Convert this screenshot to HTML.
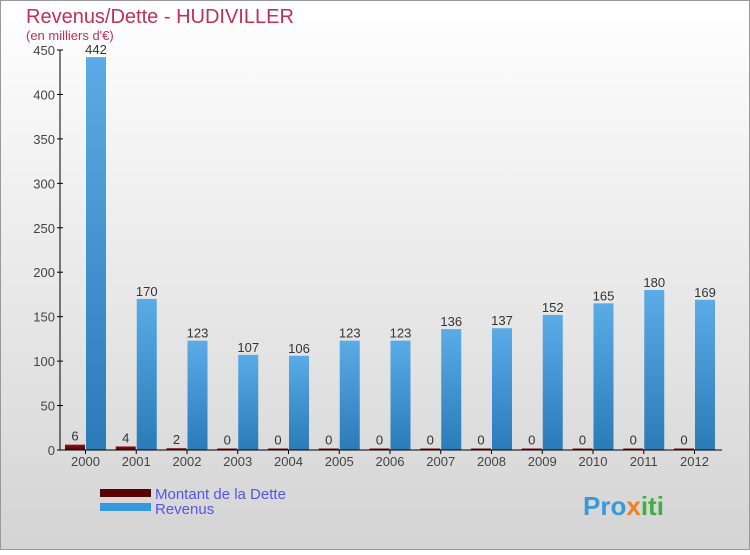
<!DOCTYPE html>
<html><head><meta charset="utf-8"><style>
body{margin:0}
#c{width:750px;height:550px;position:relative;font-family:"Liberation Sans",sans-serif;}
</style></head><body>
<div id="c">
<svg width="750" height="550" xmlns="http://www.w3.org/2000/svg" id="svg">
<defs>
<linearGradient id="bg" x1="0" y1="0" x2="0" y2="1"><stop offset="0" stop-color="#ffffff"/><stop offset="1" stop-color="#d4d4d4"/></linearGradient>
<linearGradient id="blue" x1="0" y1="0" x2="0" y2="1"><stop offset="0" stop-color="#5aabe6"/><stop offset="1" stop-color="#2a7bb8"/></linearGradient>
<linearGradient id="red" x1="0" y1="0" x2="0" y2="1"><stop offset="0" stop-color="#8a1010"/><stop offset="1" stop-color="#5a0000"/></linearGradient>
</defs>
<rect x="0.5" y="0.5" width="749" height="549" fill="url(#bg)" stroke="#999"/>
<text x="26" y="23" font-size="20" fill="#c0305a">Revenus/Dette - HUDIVILLER</text>
<text x="26" y="40" font-size="13" fill="#c0305a">(en milliers d'€)</text>
<g id="plot"></g>
<g>
<rect x="100" y="489" width="51" height="8" fill="#5a0000"/>
<text x="155" y="499" font-size="15" fill="#5555ee">Montant de la Dette</text>
<rect x="100" y="503" width="51" height="8" fill="#3498dc"/>
<text x="155" y="514" font-size="15" fill="#5555ee">Revenus</text>
</g>
<text x="583" y="515" font-size="26" font-weight="bold" fill="#3a9ad8">Pro<tspan fill="#f08020">x</tspan><tspan fill="#40b040">iti</tspan></text>
</svg>
</div>
<script>
const years=["2000","2001","2002","2003","2004","2005","2006","2007","2008","2009","2010","2011","2012"];
const dette=[6,4,2,0,0,0,0,0,0,0,0,0,0];
const revenus=[442,170,123,107,106,123,123,136,137,152,165,180,169];
const yTicks=[0,50,100,150,200,250,300,350,400,450];
const NS="http://www.w3.org/2000/svg";
const g=document.getElementById('plot');
const y0=450,ppu=400/450,x0=60,step=50.75;
const Y=v=>y0-v*ppu;
const X=i=>85.5+i*step;
function el(t,a,txt){const e=document.createElementNS(NS,t);for(const k in a)e.setAttribute(k,a[k]);if(txt!==undefined)e.textContent=txt;g.appendChild(e);return e;}
yTicks.forEach(v=>{
 const t=el('line',{x1:x0-3,x2:x0+3,y1:Y(v),y2:Y(v),stroke:'#000'});
 
 
 const l=el('text',{x:x0-5,y:Y(v)+5,'font-size':13,fill:'#444','text-anchor':'end'},v);
 
 
});
years.forEach((yr,i)=>{
 const cx=X(i);
 const rh=Math.max(dette[i]*ppu,1.5);
 const r=el('rect',{x:cx-20.5,y:y0-rh,width:20,height:rh,fill:'url(#red)'});
 
 
 const b=el('rect',{x:cx+0.5,y:Y(revenus[i]),width:20,height:revenus[i]*ppu,fill:'url(#blue)'});
 
 
 const dl=el('text',{x:cx-10.5,y:y0-rh-4,'font-size':13,fill:'#333','text-anchor':'middle'},dette[i]);
 
 
 const rl=el('text',{x:cx+10.5,y:Y(revenus[i])-3,'font-size':13,fill:'#333','text-anchor':'middle'},revenus[i]);
 
 
 const tk=el('line',{x1:cx,x2:cx,y1:y0,y2:y0+4,stroke:'#000'});
 
 
 const xl=el('text',{x:cx,y:y0+16,'font-size':13,fill:'#444','text-anchor':'middle'},yr);
 
 
});
const ya=el('line',{x1:x0,x2:x0,y1:Y(450),y2:y0,stroke:'#000'});


const xa=el('line',{x1:x0,x2:722,y1:y0,y2:y0,stroke:'#000'});


</script>
</body></html>
